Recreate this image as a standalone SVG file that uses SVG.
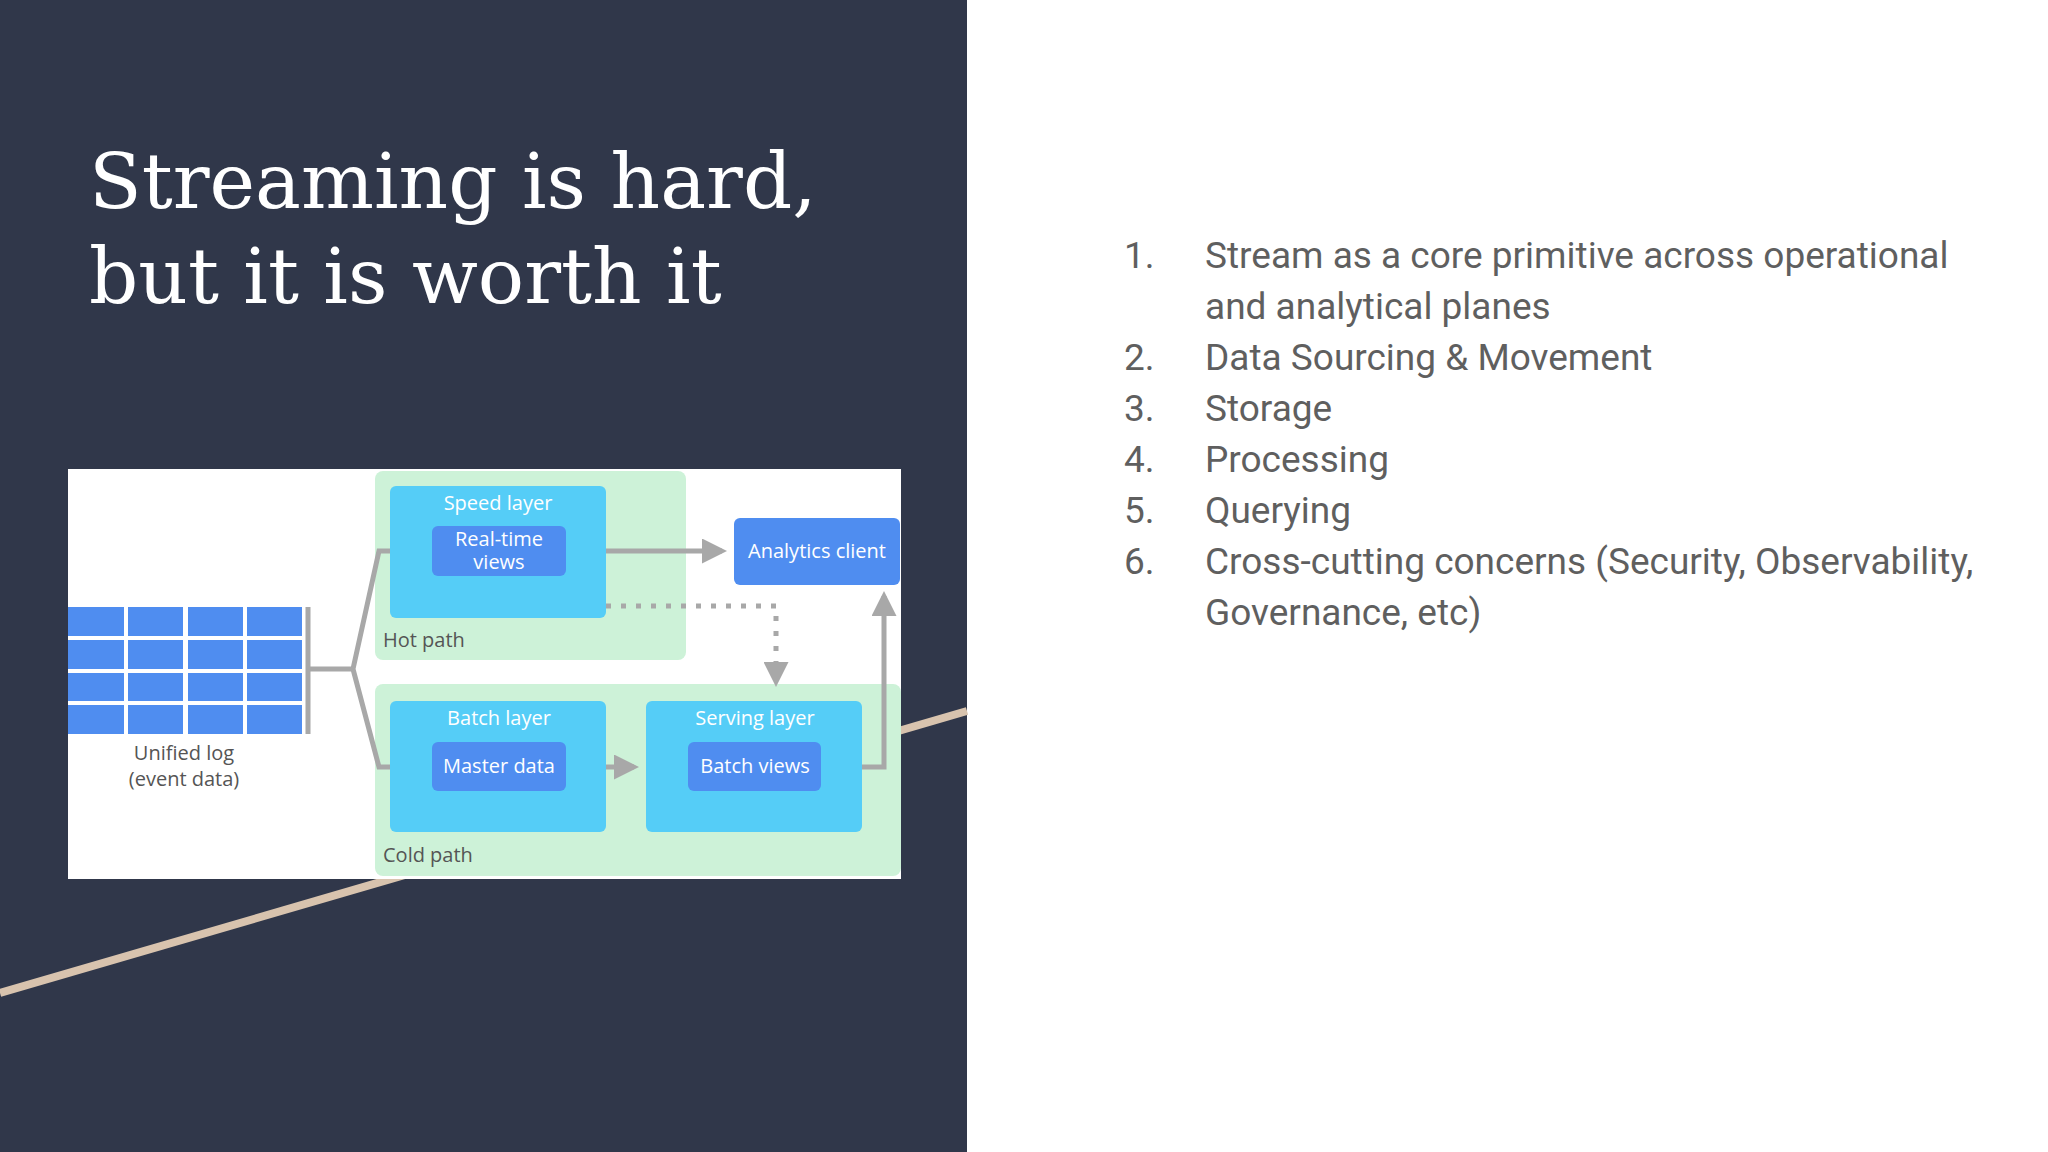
<svg xmlns="http://www.w3.org/2000/svg" width="2048" height="1152" viewBox="0 0 2048 1152">
<defs>
<style>
.g{fill:#cdf2d8}
.lay{fill:#55cdf7}
.in{fill:#4f8df0}
.wt{font-family:"Open Sans","Noto Sans",sans-serif;fill:#ffffff;text-anchor:middle;font-size:20px}
.dk{font-family:"Open Sans","Noto Sans",sans-serif;fill:#555;font-size:20px}
.cell{fill:#4f8df0}
.li{font-family:Roboto,"Liberation Sans",sans-serif;font-size:37px;fill:#5f5f5f}
.c{stroke:#a8a8a8;stroke-width:5;fill:none}
</style>
<marker id="ah" markerWidth="5" markerHeight="5" refX="4" refY="2.5" orient="auto" markerUnits="strokeWidth"><path d="M0,0L5,2.5L0,5z" fill="#a8a8a8"/></marker>
</defs>
<rect width="2048" height="1152" fill="#ffffff"/>
<rect width="967" height="1152" fill="#30374a"/>
<line x1="0" y1="993" x2="967" y2="711" stroke="#d8c3ae" stroke-width="8"/>
<g id="title" font-family="'DejaVu Serif','Liberation Serif',serif" font-size="77" fill="#ffffff">
<text x="89" y="208">Streaming is hard,</text>
<text x="89" y="303">but it is worth it</text>
</g>
<rect x="68" y="469" width="833" height="410" fill="#ffffff"/>
<g id="hot"><rect class="g" x="375" y="471" width="311" height="189" rx="8"/><text class="dk" x="383" y="647">Hot path</text></g>
<g id="cold"><rect class="g" x="375" y="684" width="526" height="192" rx="8"/><text class="dk" x="383" y="862">Cold path</text></g>
<g id="log">
<g class="cell">
<rect x="68" y="607" width="56" height="29"/><rect x="128" y="607" width="55" height="29"/><rect x="188" y="607" width="55" height="29"/><rect x="247" y="607" width="55" height="29"/>
<rect x="68" y="640" width="56" height="29"/><rect x="128" y="640" width="55" height="29"/><rect x="188" y="640" width="55" height="29"/><rect x="247" y="640" width="55" height="29"/>
<rect x="68" y="673" width="56" height="28"/><rect x="128" y="673" width="55" height="28"/><rect x="188" y="673" width="55" height="28"/><rect x="247" y="673" width="55" height="28"/>
<rect x="68" y="705" width="56" height="29"/><rect x="128" y="705" width="55" height="29"/><rect x="188" y="705" width="55" height="29"/><rect x="247" y="705" width="55" height="29"/>
</g>
<text class="dk" x="184" y="760" text-anchor="middle">Unified log</text>
<text class="dk" x="184" y="786" text-anchor="middle">(event data)</text>
</g>
<g id="speed"><rect class="lay" x="390" y="486" width="216" height="132" rx="6"/><text class="wt" x="498" y="510">Speed layer</text>
<rect class="in" x="432" y="526" width="134" height="50" rx="6"/><text class="wt" x="499" y="546" font-size="19">Real-time</text><text class="wt" x="499" y="569" font-size="19">views</text></g>
<g id="analytics"><rect class="in" x="734" y="518" width="166" height="67" rx="6"/><text class="wt" x="817" y="558">Analytics client</text></g>
<g id="batch"><rect class="lay" x="390" y="701" width="216" height="131" rx="6"/><text class="wt" x="499" y="725">Batch layer</text>
<rect class="in" x="432" y="742" width="134" height="49" rx="6"/><text class="wt" x="499" y="773">Master data</text></g>
<g id="serving"><rect class="lay" x="646" y="701" width="216" height="131" rx="6"/><text class="wt" x="755" y="725">Serving layer</text>
<rect class="in" x="688" y="742" width="133" height="49" rx="6"/><text class="wt" x="755" y="773">Batch views</text></g>
<g id="connectors">
<path class="c" d="M308,607V734M308,669H353L379,551H390M353,669L379,767H390"/>
<path class="c" d="M606,551H722" marker-end="url(#ah)"/>
<path class="c" d="M606,606H776V682" stroke-dasharray="5,10" marker-end="url(#ah)"/>
<path class="c" d="M606,767H634" marker-end="url(#ah)"/>
<path class="c" d="M862,767H884V596" marker-end="url(#ah)"/>
</g>
<g id="list" class="li">
<text x="1124" y="268">1.</text><text x="1205" y="268">Stream as a core primitive across operational</text>
<text x="1205" y="319">and analytical planes</text>
<text x="1124" y="370">2.</text><text x="1205" y="370">Data Sourcing &amp; Movement</text>
<text x="1124" y="421">3.</text><text x="1205" y="421">Storage</text>
<text x="1124" y="472">4.</text><text x="1205" y="472">Processing</text>
<text x="1124" y="523">5.</text><text x="1205" y="523">Querying</text>
<text x="1124" y="574">6.</text><text x="1205" y="574">Cross-cutting concerns (Security, Observability,</text>
<text x="1205" y="625">Governance, etc)</text>
</g>
</svg>
